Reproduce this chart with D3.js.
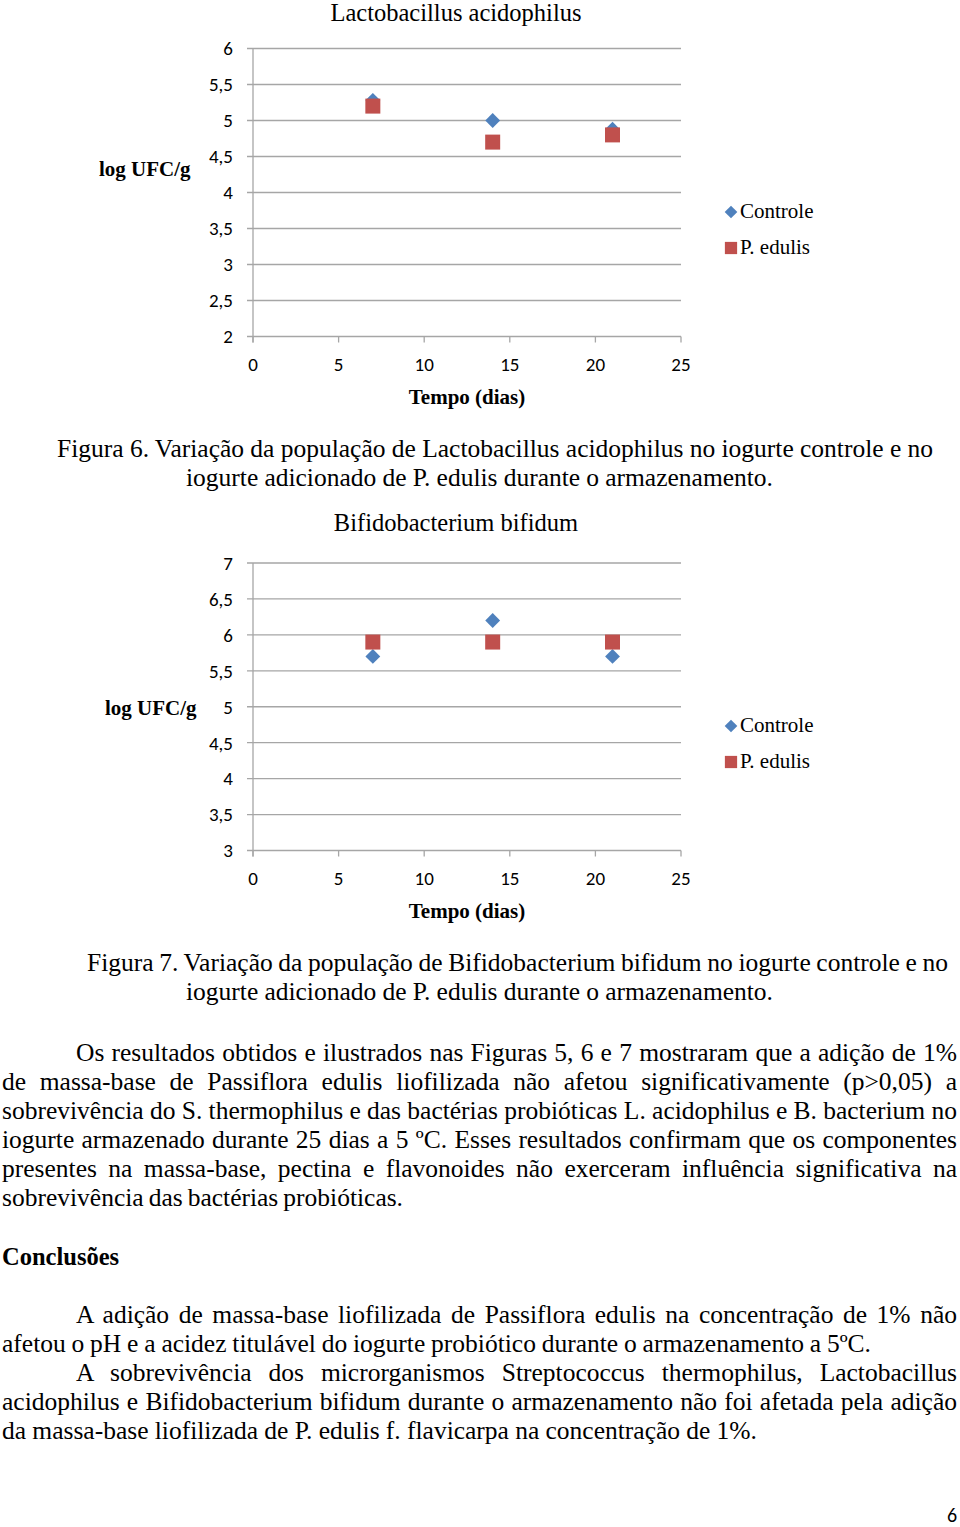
<!DOCTYPE html>
<html>
<head>
<meta charset="utf-8">
<script src="https://cdn.jsdelivr.net/npm/d3@7"></script>
<style>
  html, body { margin: 0; padding: 0; background: #fff; }
  svg { display: block; }
</style>
</head>
<body>
<svg id="page" width="960" height="1527"></svg>
<script>
// ---------- DATA ----------
const days = [7, 14, 21];
const seriesNames = ["Controle", "P. edulis"];
const lactoControle = [5.28, 5.0, 4.88];
const lactoEdulis = [5.2, 4.7, 4.8];
const bifidoControle = [5.7, 6.2, 5.7];
const bifidoEdulis = [5.9, 5.9, 5.9];
const xTicks = [0, 5, 10, 15, 20, 25];
const lactoYTicks = [2, 2.5, 3, 3.5, 4, 4.5, 5, 5.5, 6];
const bifidoYTicks = [3, 3.5, 4, 4.5, 5, 5.5, 6, 6.5, 7];

const BLUE = "#4f81bd", RED = "#c0504d", GRID = "#a6a6a6";
const SERIF = "'Liberation Serif', 'Times New Roman', serif";
const SANS = "Carlito, 'Open Sans', 'Liberation Sans', sans-serif";

const svg = d3.select("#page");
svg.append("rect").attr("width", 960).attr("height", 1527).attr("fill", "#fff");

function textLine(str, x0, x1, y, size, weight) {
  const t = svg.append("text")
    .attr("x", x0).attr("y", y)
    .attr("font-family", SERIF).attr("font-size", size)
    .attr("font-weight", weight || "normal")
    .attr("fill", "#000")
    .text(str);
  const w = t.node().getComputedTextLength();
  const n = str.split(" ").length - 1;
  if (n > 0) t.attr("word-spacing", (x1 - x0 - w) / n);
  return t;
}

const fmt = v => String(v).replace(".", ",");

function drawChart(cfg) {
  const x = d3.scaleLinear().domain([0, 25]).range([253, 681]);
  const y = d3.scaleLinear().domain(cfg.yDomain).range([cfg.yBottom, cfg.yTop]);
  const g = svg.append("g");

  g.selectAll(".grid").data(cfg.yTicks).enter().append("line")
    .attr("x1", 247).attr("x2", 681)
    .attr("y1", d => y(d)).attr("y2", d => y(d))
    .attr("stroke", GRID).attr("stroke-width", 1.3);
  g.append("line").attr("x1", 253).attr("x2", 253)
    .attr("y1", y(cfg.yDomain[1])).attr("y2", y(cfg.yDomain[0]) + 6)
    .attr("stroke", GRID).attr("stroke-width", 1.3);
  g.selectAll(".xt").data(xTicks).enter().append("line")
    .attr("x1", d => x(d)).attr("x2", d => x(d))
    .attr("y1", y(cfg.yDomain[0])).attr("y2", y(cfg.yDomain[0]) + 6)
    .attr("stroke", GRID).attr("stroke-width", 1.3);
  g.selectAll(".yl").data(cfg.yTicks).enter().append("text")
    .attr("x", 233).attr("y", d => y(d)).attr("dy", "0.36em")
    .attr("text-anchor", "end").attr("font-family", SANS).attr("font-size", 19)
    .text(fmt);
  g.selectAll(".xl").data(xTicks).enter().append("text")
    .attr("x", d => x(d)).attr("y", y(cfg.yDomain[0]) + 28).attr("dy", "0.36em")
    .attr("text-anchor", "middle").attr("font-family", SANS).attr("font-size", 19)
    .text(d => d);

  svg.append("text").attr("x", cfg.titleX).attr("y", cfg.titleY)
    .attr("text-anchor", "middle").attr("font-family", SERIF).attr("font-size", 24.5)
    .text(cfg.title);
  svg.append("text").attr("x", cfg.yLabelX).attr("y", cfg.yLabelY)
    .attr("font-family", SERIF).attr("font-size", 21).attr("font-weight", "bold")
    .text("log UFC/g");
  svg.append("text").attr("x", 467).attr("y", y(cfg.yDomain[0]) + 67)
    .attr("text-anchor", "middle").attr("font-family", SERIF).attr("font-size", 21)
    .attr("font-weight", "bold").text("Tempo (dias)");

  const diamond = d3.symbol().type(d3.symbolSquare).size(110)();
  const square = d3.symbol().type(d3.symbolSquare).size(225)();
  g.selectAll(".c").data(days).enter().append("path")
    .attr("d", diamond).attr("fill", BLUE)
    .attr("transform", (d, i) => `translate(${x(d)},${y(cfg.controle[i])}) rotate(45)`);
  g.selectAll(".e").data(days).enter().append("path")
    .attr("d", square).attr("fill", RED)
    .attr("transform", (d, i) => `translate(${x(d)},${y(cfg.edulis[i])})`);

  const ly = cfg.legendY;
  g.append("path").attr("d", d3.symbol().type(d3.symbolSquare).size(80)())
    .attr("fill", BLUE).attr("transform", `translate(731,${ly}) rotate(45)`);
  g.append("path").attr("d", d3.symbol().type(d3.symbolSquare).size(150)())
    .attr("fill", RED).attr("transform", `translate(731,${ly + 36})`);
  g.append("text").attr("x", 740).attr("y", ly + 6).attr("font-family", SERIF)
    .attr("font-size", 21).text(seriesNames[0]);
  g.append("text").attr("x", 740).attr("y", ly + 42).attr("font-family", SERIF)
    .attr("font-size", 21).text(seriesNames[1]);
}

drawChart({
  title: "Lactobacillus acidophilus", titleX: 456, titleY: 21,
  yDomain: [2, 6], yTop: 48.5, yBottom: 336.5, yTicks: lactoYTicks,
  controle: lactoControle, edulis: lactoEdulis,
  yLabelX: 99, yLabelY: 176, legendY: 212
});

drawChart({
  title: "Bifidobacterium bifidum", titleX: 456, titleY: 531,
  yDomain: [3, 7], yTop: 563, yBottom: 850.5, yTicks: bifidoYTicks,
  controle: bifidoControle, edulis: bifidoEdulis,
  yLabelX: 105, yLabelY: 715, legendY: 726
});

// ---------- TEXT ----------
const FS = 25.5;
textLine("Figura 6. Variação da população de Lactobacillus acidophilus no iogurte controle e no", 57, 933, 457, FS);
textLine("iogurte adicionado de P. edulis durante o armazenamento.", 186, 773, 486, FS);
textLine("Figura 7. Variação da população de Bifidobacterium bifidum no iogurte controle e no", 87, 948, 971, FS);
textLine("iogurte adicionado de P. edulis durante o armazenamento.", 186, 773, 1000, FS);

textLine("Os resultados obtidos e ilustrados nas Figuras 5, 6 e 7 mostraram que a adição de 1%", 76, 957, 1061, FS);
textLine("de massa-base de Passiflora edulis liofilizada não afetou significativamente (p>0,05) a", 2, 957, 1090, FS);
textLine("sobrevivência do S. thermophilus e das bactérias probióticas L. acidophilus e B. bacterium no", 2, 957, 1119, FS);
textLine("iogurte armazenado durante 25 dias a 5 ºC. Esses resultados confirmam que os componentes", 2, 957, 1148, FS);
textLine("presentes na massa-base, pectina e flavonoides não exerceram influência significativa na", 2, 957, 1177, FS);
textLine("sobrevivência das bactérias probióticas.", 2, 403, 1206, FS);

textLine("Conclusões", 2, 122, 1265, 24.5, "bold");

textLine("A adição de massa-base liofilizada de Passiflora edulis na concentração de 1% não", 76, 957, 1323, FS);
textLine("afetou o pH e a acidez titulável do iogurte probiótico durante o armazenamento a 5ºC.", 2, 871, 1352, FS);
textLine("A sobrevivência dos microrganismos Streptococcus thermophilus, Lactobacillus", 76, 957, 1381, FS);
textLine("acidophilus e Bifidobacterium bifidum durante o armazenamento não foi afetada pela adição", 2, 957, 1410, FS);
textLine("da massa-base liofilizada de P. edulis f. flavicarpa na concentração de 1%.", 2, 757, 1439, FS);

svg.append("text").attr("x", 952).attr("y", 1522).attr("text-anchor", "middle")
  .attr("font-family", SANS).attr("font-size", 20).text("6");
</script>
</body>
</html>
